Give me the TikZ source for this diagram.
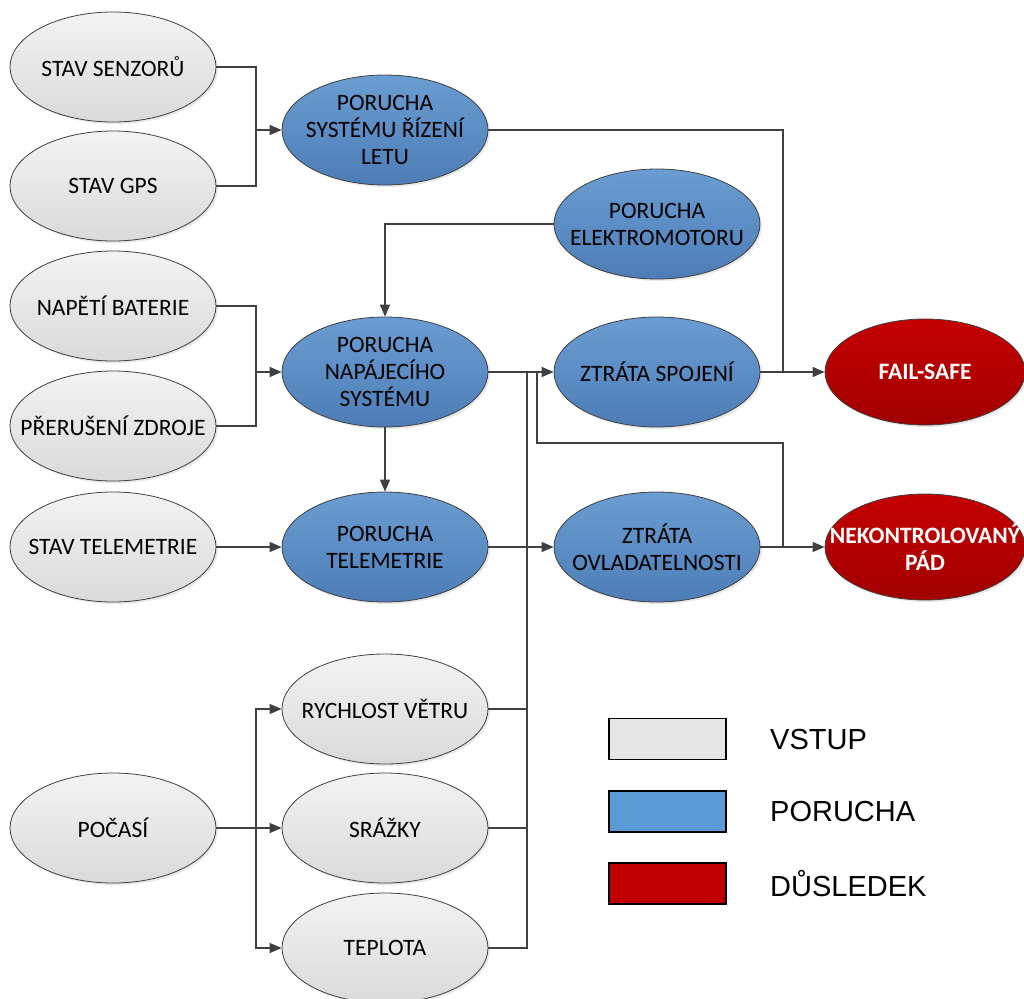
\documentclass[tikz,border=0pt]{standalone}
\usepackage{fontspec}
\setmainfont{Carlito}
\newfontfamily\legfont{Liberation Sans}
\usetikzlibrary{shapes.geometric,arrows.meta,shadows}
\definecolor{lineC}{HTML}{404040}
\definecolor{grayT}{HTML}{F3F3F3}
\definecolor{grayB}{HTML}{DADADA}
\definecolor{blueT}{HTML}{6A9DD2}
\definecolor{blueB}{HTML}{4E7DB6}
\definecolor{redT}{HTML}{C40000}
\definecolor{redB}{HTML}{A20000}
\definecolor{legGray}{HTML}{E6E6E6}
\definecolor{legBlue}{HTML}{5B9BD5}
\definecolor{legRed}{HTML}{C00000}
\tikzset{
  base/.style={ellipse, draw=lineC, line width=0.8pt, minimum width=206pt, minimum height=110pt,
    inner sep=0pt,
    drop shadow={opacity=0.18, shadow xshift=2pt, shadow yshift=-2pt}},
  txt/.style={align=center, inner sep=0pt, font=\fontsize{23.5}{27}\selectfont},
  rtxt/.style={txt, text=white, font=\fontsize{23.5}{27}\selectfont\bfseries},
  vstup/.style={base, top color=grayT, bottom color=grayB},
  porucha/.style={base, top color=blueT, bottom color=blueB},
  dusledek/.style={base, top color=redT, bottom color=redB, minimum width=200pt, minimum height=106pt},
  conn/.style={draw=lineC, line width=1.4pt},
  arr/.style={conn, -{Triangle[length=12pt,width=10pt]}},
  legbox/.style={draw=black, line width=1.3pt, minimum width=117pt, minimum height=41pt, inner sep=0pt},
  legtext/.style={anchor=west, font=\legfont\fontsize{29}{32}\selectfont, inner sep=0pt}
}
\begin{document}
\begin{tikzpicture}[x=1pt,y=-1pt]
\useasboundingbox (0,0) rectangle (1024,998);
% left column
\node[vstup, label={[txt]center:STAV SENZORŮ}] (sen) at (113,67) {};
\node[vstup, label={[txt]center:STAV GPS}] (gps) at (113,186) {};
\node[vstup, label={[txt]center:NAPĚTÍ BATERIE}] (bat) at (113,306) {};
\node[vstup, label={[txt]center:PŘERUŠENÍ ZDROJE}] (zdr) at (113,426) {};
\node[vstup, label={[txt]center:STAV TELEMETRIE}] (stel) at (113,547) {};
\node[vstup, label={[txt]center:POČASÍ}] (poc) at (113,828) {};
% middle column
\node[porucha, label={[txt]center:PORUCHA\\SYSTÉMU ŘÍZENÍ\\LETU}] (ridi) at (385,130) {};
\node[porucha, label={[txt]center:PORUCHA\\NAPÁJECÍHO\\SYSTÉMU}] (napaj) at (385,372) {};
\node[porucha, label={[txt]center:PORUCHA\\TELEMETRIE}] (tele) at (385,547) {};
\node[vstup, label={[txt]center:RYCHLOST VĚTRU}] (vitr) at (385,709) {};
\node[vstup, label={[txt]center:SRÁŽKY}] (sraz) at (385,828) {};
\node[vstup, label={[txt]center:TEPLOTA}] (tepl) at (385,948) {};
% right-middle column
\node[porucha, label={[txt]center:PORUCHA\\ELEKTROMOTORU}] (elek) at (657,224) {};
\node[porucha, label={[txt]center:ZTRÁTA SPOJENÍ}] (zspoj) at (657,372) {};
\node[porucha, label={[txt]center:ZTRÁTA\\OVLADATELNOSTI}] (zovl) at (657,547) {};
% consequences
\node[dusledek, label={[rtxt]center:FAIL-SAFE}] (fail) at (925,372) {};
\node[dusledek, label={[rtxt]center:NEKONTROLOVANÝ\\PÁD}] (pad) at (925,547) {};
% junctions
\coordinate (jA) at (256,130);
\coordinate (jB) at (256,372);
\coordinate (jC) at (256,828);
\coordinate (jD) at (527,372);
\coordinate (jE) at (537,372);
\coordinate (jF) at (783,443);
\coordinate (jG) at (783,547);
\coordinate (jH) at (783,372);
% connectors
\draw[conn] (sen.east) -| (jA);
\draw[conn] (gps.east) -| (jA);
\draw[arr] (jA) -- (ridi.west);
\draw[conn] (bat.east) -| (jB);
\draw[conn] (zdr.east) -| (jB);
\draw[arr] (jB) -- (napaj.west);
\draw[conn] (poc.east) -- (jC);
\draw[arr] (jC) |- (vitr.west);
\draw[arr] (jC) -- (sraz.west);
\draw[arr] (jC) |- (tepl.west);
\draw[arr] (stel.east) -- (tele.west);
\draw[arr] (elek.west) -| (napaj.north);
\draw[arr] (napaj.south) -- (tele.north);
\draw[arr] (napaj.east) -- (zspoj.west);
\draw[arr] (tele.east) -- (zovl.west);
\draw[conn] (vitr.east) -| (jD);
\draw[conn] (sraz.east) -| (jD);
\draw[conn] (tepl.east) -| (jD);
\draw[conn] (jE) |- (jF) -- (jG);
\draw[conn] (ridi.east) -| (jH);
\draw[arr] (zspoj.east) -- (fail.west);
\draw[arr] (zovl.east) -- (pad.west);
% legend
\node[legbox, fill=legGray] (lg1) at (667.5,739) {};
\node[legbox, fill=legBlue] (lg2) at (667.5,811.5) {};
\node[legbox, fill=legRed] (lg3) at (667.5,883.5) {};
\node[legtext] (lt1) at (770,740) {VSTUP};
\node[legtext] (lt2) at (770,812) {PORUCHA};
\node[legtext] (lt3) at (770,884) {DŮSLEDEK};
\end{tikzpicture}
\end{document}
